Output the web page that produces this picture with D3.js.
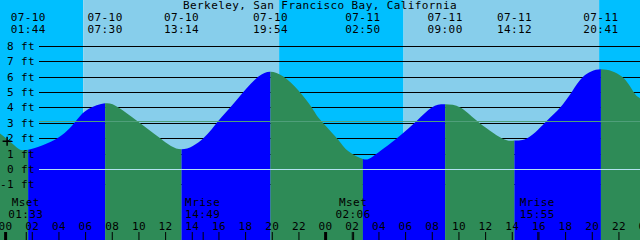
<!DOCTYPE html>
<html>
<head>
<meta charset="utf-8">
<script src="https://cdn.jsdelivr.net/npm/d3@7"></script>
<style>
  html, body { margin: 0; padding: 0; background: #fff; }
  svg { display: block; }
  text { font-family: "DejaVu Sans Mono", monospace; font-size: 11px; letter-spacing: 0.4px; fill: #000; }
</style>
</head>
<body>
<svg id="chart"></svg>
<script>
"use strict";

const title = "Berkeley, San Francisco Bay, California";
const window_start = "07-09 23:37";
const window_end = "07-11 23:37";

// high / low tides
const tide_times = ["07-10 01:44", "07-10 07:30", "07-10 13:14", "07-10 19:54", "07-11 02:50", "07-11 09:00", "07-11 14:12", "07-11 20:41"];
const tide_kinds = ["L", "H", "L", "H", "L", "H", "L", "H"];
const tide_feet = [1.25, 4.27, 1.28, 6.32, 0.65, 4.2, 1.85, 6.48];

// levels
const curve_times = ["07-09 23:37", "07-10 00:45", "07-10 04:00", "07-10 05:23", "07-10 06:15", "07-10 08:30", "07-10 09:53", "07-10 11:38",
  "07-10 14:52", "07-10 16:00", "07-10 16:53", "07-10 17:52", "07-10 19:00", "07-10 20:52", "07-10 22:00", "07-10 23:00", "07-10 23:38",
  "07-11 00:53", "07-11 01:45", "07-11 03:38", "07-11 05:23", "07-11 06:53", "07-11 08:00", "07-11 10:08", "07-11 11:23", "07-11 13:15",
  "07-11 15:15", "07-11 16:38", "07-11 17:38", "07-11 18:30", "07-11 19:22", "07-11 22:15", "07-11 23:08", "07-11 23:37"];
const curve_feet = [2.3, 1.5, 2.05, 3.2, 3.9, 4.0, 3.14, 2.0,
  2.0, 3.14, 4.0, 5.0, 6.0, 6.0, 5.1, 4.0, 3.2,
  2.0, 1.15, 0.85, 2.0, 3.14, 4.0, 4.0, 3.14, 2.0,
  2.05, 3.14, 4.0, 5.0, 6.0, 6.0, 5.0, 4.6];

const sun_times = ["07-10 05:52", "07-10 20:33", "07-11 05:53", "07-11 20:33"];
const sun_events = ["rise", "set", "rise", "set"];

const moon_times = ["07-10 01:33", "07-10 14:49", "07-11 02:06", "07-11 15:55"];
const moon_labels = ["Mset", "Mrise", "Mset", "Mrise"];

const height_ticks = [8, 7, 6, 5, 4, 3, 2, 1, 0, -1];
const msl_feet = 3.14;
const marker_time = "07-10 00:09";
const marker_feet = 1.8;

const _render_tides = function () {

  const chart_width = 640,
    chart_height = 240;
  const grid_left = 39;

  const parse_t = d3.timeParse("%m-%d %H:%M");
  const fmt_date = d3.timeFormat("%m-%d"),
    fmt_time = d3.timeFormat("%H:%M");

  const col_night = "#00bfff",
    col_day = "#87ceeb",
    col_flood = "#0000ff",
    col_ebb = "#2e8b57";

  let chart_svg = d3.select("#chart")
    .attr("width", chart_width)
    .attr("height", chart_height);

  let t0 = parse_t(window_start),
    t1 = parse_t(window_end);

  let x_scale = d3.scaleTime().domain([t0, t1]).range([0, chart_width]);
  let y_scale = d3.scaleLinear().domain([0, 8]).range([169, 45.8]);

  // day / night background
  let sun_edges = [t0].concat(sun_times.map(parse_t)).concat([t1]);
  let night_first = sun_events[0] == "rise";
  for (let i = 0; i < sun_edges.length - 1; i++) {
    let is_night = (i % 2 == 0) == night_first;
    chart_svg.append("rect")
      .attr("x", x_scale(sun_edges[i]))
      .attr("y", 0)
      .attr("width", x_scale(sun_edges[i + 1]) - x_scale(sun_edges[i]))
      .attr("height", chart_height)
      .attr("fill", is_night ? col_night : col_day);
  }

  // grid lines (under the water)
  chart_svg.append("g").selectAll("line")
    .data(height_ticks.filter(d => d != 0))
    .enter().append("line")
    .attr("x1", grid_left).attr("x2", chart_width)
    .attr("y1", d => Math.round(y_scale(d)) + 0.5)
    .attr("y2", d => Math.round(y_scale(d)) + 0.5)
    .attr("stroke", "#000")
    .attr("stroke-width", 1);

  // tide curve
  let pts = curve_times.map((t, i) => ({ t: parse_t(t), h: curve_feet[i] }))
    .concat(tide_times.map((t, i) => ({ t: parse_t(t), h: tide_feet[i] })))
    .sort((a, b) => a.t - b.t);

  let tide_area = d3.area()
    .x(d => x_scale(d.t))
    .y0(chart_height)
    .y1(d => y_scale(d.h))
    .curve(d3.curveNatural);

  chart_svg.append("clipPath").attr("id", "tide-clip")
    .append("path").attr("d", tide_area(pts));

  let seg_edges = [t0].concat(tide_times.map(parse_t)).concat([t1]);
  let water = chart_svg.append("g").attr("clip-path", "url(#tide-clip)");
  for (let i = 0; i < seg_edges.length - 1; i++) {
    let rising = i < tide_kinds.length ? tide_kinds[i] == "H" : tide_kinds[tide_kinds.length - 1] == "L";
    water.append("rect")
      .attr("x", x_scale(seg_edges[i]))
      .attr("y", 0)
      .attr("width", x_scale(seg_edges[i + 1]) - x_scale(seg_edges[i]))
      .attr("height", chart_height)
      .attr("fill", rising ? col_flood : col_ebb);
  }

  // datum and mean sea level
  chart_svg.append("line")
    .attr("x1", grid_left).attr("x2", chart_width)
    .attr("y1", Math.round(y_scale(0)) + 0.5).attr("y2", Math.round(y_scale(0)) + 0.5)
    .attr("stroke", "#b2e2f2");
  chart_svg.append("line")
    .attr("x1", grid_left).attr("x2", chart_width)
    .attr("y1", Math.round(y_scale(msl_feet)) + 0.5).attr("y2", Math.round(y_scale(msl_feet)) + 0.5)
    .attr("stroke", "#4f9f7a");

  // height labels
  chart_svg.append("g").selectAll("text")
    .data(height_ticks)
    .enter().append("text")
    .attr("x", 35)
    .attr("y", d => y_scale(d) + 4)
    .attr("text-anchor", "end")
    .text(d => d + " ft");

  // "+" marker
  let mx = x_scale(parse_t(marker_time)),
    my = y_scale(marker_feet);
  chart_svg.append("path")
    .attr("d", "M" + (mx - 4.5) + "," + my + "H" + (mx + 4.5) + "M" + mx + "," + (my - 4.5) + "V" + (my + 4.5))
    .attr("stroke", "#000")
    .attr("stroke-width", 1.5);

  // title
  chart_svg.append("text")
    .attr("x", chart_width / 2)
    .attr("y", 9)
    .attr("text-anchor", "middle")
    .text(title);

  // tide event labels
  let tide_lab = chart_svg.append("g").selectAll("g")
    .data(tide_times.map(parse_t))
    .enter().append("g")
    .attr("transform", d => "translate(" + x_scale(d) + ",0)");
  tide_lab.append("text").attr("y", 21).attr("text-anchor", "middle").text(d => fmt_date(d));
  tide_lab.append("text").attr("y", 33).attr("text-anchor", "middle").text(d => fmt_time(d));

  // moon event labels and marks
  let moon_lab = chart_svg.append("g").selectAll("g")
    .data(moon_times.map((t, i) => ({ t: parse_t(t), lab: moon_labels[i] })))
    .enter().append("g")
    .attr("transform", d => "translate(" + x_scale(d.t) + ",0)");
  moon_lab.append("text").attr("y", 205.5).attr("text-anchor", "middle").text(d => d.lab);
  moon_lab.append("text").attr("y", 217.5).attr("text-anchor", "middle").text(d => fmt_time(d.t));
  moon_lab.append("line")
    .attr("x1", 0.5).attr("x2", 0.5)
    .attr("y1", 232).attr("y2", chart_height)
    .attr("stroke", "#000");

  // hour axis
  let hour_ticks = d3.timeHour.every(2).range(d3.timeDay.ceil(t0), d3.timeHour.offset(t1, 2));
  let axis_g = chart_svg.append("g")
    .attr("transform", "translate(0," + chart_height + ")")
    .call(d3.axisTop(x_scale).tickValues(hour_ticks).tickFormat(d3.timeFormat("%H")).tickSize(8).tickPadding(2));
  axis_g.select(".domain").remove();
  axis_g.selectAll(".tick line")
    .filter(d => d.getHours() == 0)
    .attr("stroke-width", 3);
};

_render_tides();
</script>
</body>
</html>
